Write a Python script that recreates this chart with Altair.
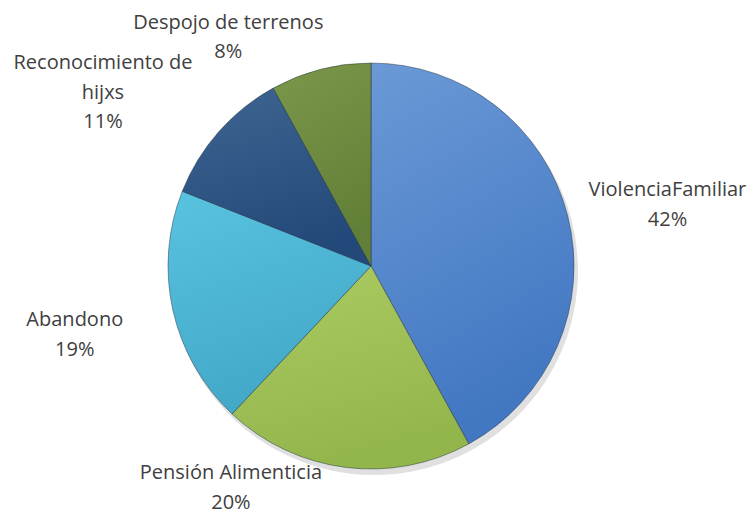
import math
import altair as alt
import pandas as pd

categories = ["ViolenciaFamiliar", "Pensión Alimenticia", "Abandono",
              "Reconocimiento de hijxs", "Despojo de terrenos"]
values = [42, 20, 19, 11, 8]
label_text = ["ViolenciaFamiliar\n42%", "Pensión Alimenticia\n20%", "Abandono\n19%",
              "Reconocimiento de\nhijxs\n11%", "Despojo de terrenos\n8%"]

top_colors = ["#6b99d6", "#abcb62", "#58c3e0", "#3f6592", "#7b9749"]
bottom_colors = ["#4277c2", "#93b64c", "#43a8c8", "#23497a", "#627f38"]
label_offsets = [(64, -16), (-110, -31), (-62, 2), (-88, -44), (-83, -11)]

CX, CY, R = 363, 258, 203

df = pd.DataFrame({"cat": categories, "value": values, "idx": list(range(len(values))),
                   "label": label_text})

base = alt.Chart(df).transform_window(
    cum="sum(value)", sort=[alt.SortField("idx")], frame=[None, 0]
).transform_calculate(
    start="datum.cum - datum.value", mid="datum.cum - datum.value / 2"
)

tscale = alt.Scale(domain=[0, 100], range=[0, 2 * math.pi])

layers = []
# shadow
layers.append(
    base.mark_arc(outerRadius=R + 1, fill="#000000", fillOpacity=0.12).encode(
        theta=alt.Theta("start:Q", scale=tscale, stack=None),
        theta2="cum:Q",
        x=alt.value(CX + 3), y=alt.value(CY + 5),
    )
)
for i, c in enumerate(categories):
    grad = alt.LinearGradient(
        gradient="linear", x1=0, y1=0, x2=0.3, y2=1,
        stops=[alt.GradientStop(color=top_colors[i], offset=0),
               alt.GradientStop(color=bottom_colors[i], offset=1)],
    )
    layers.append(
        base.transform_filter(alt.datum.cat == c).mark_arc(
            outerRadius=R, fill=grad, stroke="#1f2d3d", strokeOpacity=0.45, strokeWidth=1
        ).encode(
            theta=alt.Theta("start:Q", scale=tscale, stack=None),
            theta2="cum:Q",
            x=alt.value(CX), y=alt.value(CY),
        )
    )
for i, c in enumerate(categories):
    dx, dy = label_offsets[i]
    layers.append(
        base.transform_filter(alt.datum.cat == c).mark_text(
            radius=240, dx=dx, dy=dy, font="Open Sans", fontSize=20, color="#404040",
            lineBreak="\n", lineHeight=29.5, align="center", baseline="middle",
        ).encode(
            theta=alt.Theta("mid:Q", scale=tscale, stack=None),
            text="label:N",
            x=alt.value(CX), y=alt.value(CY),
        )
    )

chart = alt.layer(*layers).properties(
    width=739, height=506, padding=0,
    autosize=alt.AutoSizeParams(type="fit", contains="padding"),
).configure_view(stroke=None)

chart.save("out.html", embed_options={"renderer": "svg", "actions": False})
